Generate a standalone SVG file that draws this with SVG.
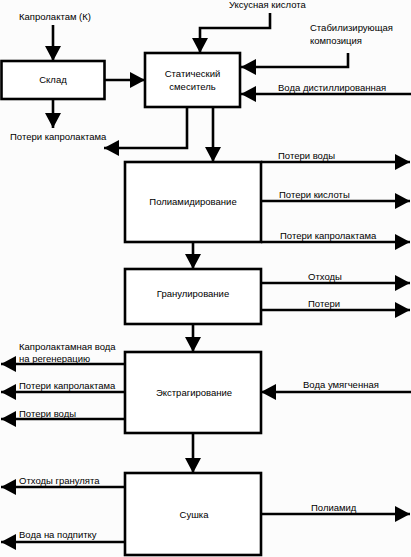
<svg xmlns="http://www.w3.org/2000/svg" width="411" height="557" viewBox="0 0 411 557">
<defs>
<marker id="ah" markerWidth="15" markerHeight="16" refX="15" refY="8" orient="auto" markerUnits="userSpaceOnUse"><path d="M0,0 L15,8 L0,16 z" fill="#000"/></marker>
<style>
.box{fill:#fff;stroke:#000;stroke-width:2.6}
.c{fill:none;stroke:#000;stroke-width:2.6;marker-end:url(#ah)}
.l{fill:none;stroke:#000;stroke-width:2.6}
text{font-family:"Liberation Sans",Arial,sans-serif;font-size:9.5px;fill:#000}
.m{text-anchor:middle}
</style>
</defs>
<rect width="411" height="557" fill="#fcfcfc"/>
<g id="connectors">
<path class="c" d="M53,25 V61"/>
<path class="c" d="M105,80 H145"/>
<path class="c" d="M53,99 V128"/>
<path class="c" d="M270,13 V28 H200 V53"/>
<path class="c" d="M348,53 V67 H241"/>
<path class="c" d="M411,94 H241"/>
<path class="c" d="M187,107 V148 H104"/>
<path class="c" d="M213,107 V162"/>
<path class="c" d="M261,162 H410"/>
<path class="c" d="M261,201 H410"/>
<path class="c" d="M261,242 H410"/>
<path class="c" d="M193,242 V269"/>
<path class="c" d="M261,283 H410"/>
<path class="c" d="M261,310 H410"/>
<path class="c" d="M193,324 V352"/>
<path class="c" d="M125,364 H1"/>
<path class="c" d="M125,392 H1"/>
<path class="c" d="M125,419 H1"/>
<path class="c" d="M411,392 H261"/>
<path class="c" d="M193,433 V473"/>
<path class="c" d="M125,487 H1"/>
<path class="c" d="M125,542 H1"/>
<path class="c" d="M261,514 H410"/>
</g>
<g id="labels">
<text x="19" y="20">Капролактам (К)</text>
<text x="10" y="140">Потери капролактама</text>
<text x="229" y="8">Уксусная кислота</text>
<text x="310" y="30.5">Стабилизирующая</text>
<text x="310" y="43.5">композиция</text>
<text x="278" y="90.5">Вода дистиллированная</text>
<text x="278" y="158.5">Потери воды</text>
<text x="279" y="197.5">Потери кислоты</text>
<text x="280" y="238.5">Потери капролактама</text>
<text x="308" y="279.5">Отходы</text>
<text x="308" y="306.5">Потери</text>
<text x="19" y="349.5">Капролактамная вода</text>
<text x="19" y="361.5">на регенерацию</text>
<text x="19" y="388.5">Потери капролактама</text>
<text x="19" y="416.5">Потери воды</text>
<text x="303" y="387.5">Вода умягченная</text>
<text x="19" y="483.5">Отходы гранулята</text>
<text x="19" y="537.5">Вода на подпитку</text>
<text x="311" y="510.5">Полиамид</text>
</g>
<g id="sklad"><rect class="box" x="1.5" y="61" width="103" height="38"/><text class="m" x="53" y="83">Склад</text></g>
<g id="mixer"><rect class="box" x="145" y="53" width="95" height="54"/><text class="m" x="192.5" y="76.5">Статический</text><text class="m" x="192.5" y="89.5">смеситель</text></g>
<g id="polyam"><rect class="box" x="125" y="162" width="136" height="80"/><text class="m" x="193" y="204.5">Полиамидирование</text></g>
<g id="granul"><rect class="box" x="125" y="269" width="136" height="55"/><text class="m" x="193" y="296.5">Гранулирование</text></g>
<g id="extract"><rect class="box" x="125" y="352" width="136" height="81"/><text class="m" x="194" y="395.5">Экстрагирование</text></g>
<g id="drying"><rect class="box" x="125" y="473" width="136" height="82"/><text class="m" x="194" y="517.5">Сушка</text></g>
</svg>
